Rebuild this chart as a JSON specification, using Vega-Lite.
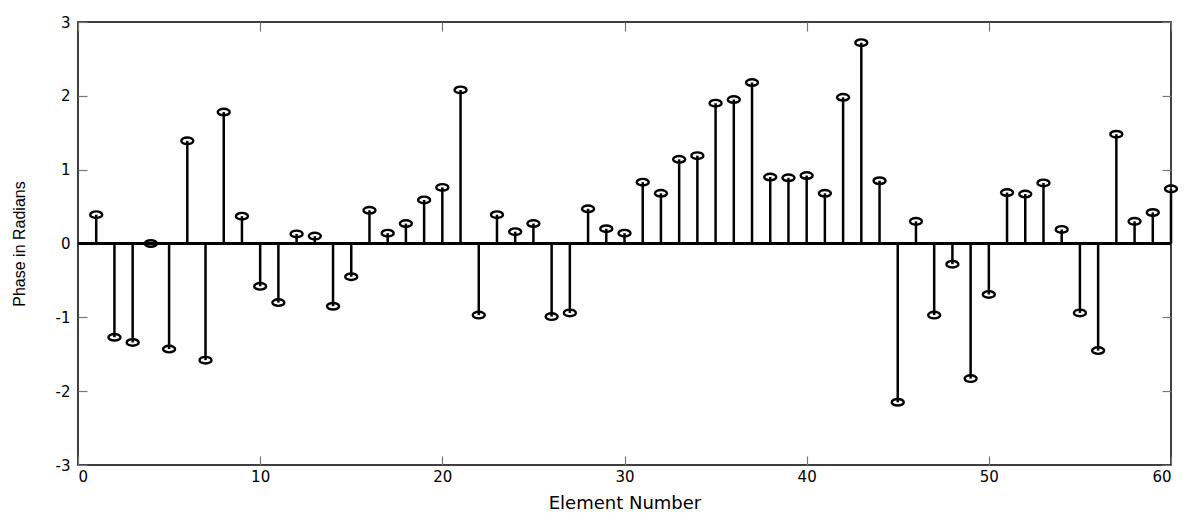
{
  "$schema": "https://vega.github.io/schema/vega-lite/v6.json",
  "width": 1093,
  "height": 443,
  "autosize": "none",
  "padding": {"left": 78, "top": 22, "right": 22, "bottom": 48},
  "background": "white",
  "config": {
    "view": {"stroke": "black", "strokeWidth": 1.5},
    "axis": {
      "labelFont": "DejaVu Sans",
      "labelFontSize": 15,
      "labelColor": "black",
      "titleFont": "DejaVu Sans",
      "titleFontWeight": "normal",
      "titleColor": "black",
      "grid": false,
      "domain": false,
      "tickColor": "#777777",
      "tickWidth": 1.2,
      "tickSize": -9
    }
  },
  "data": {
    "values": [
      {"n": 1, "phase": 0.39}, {"n": 2, "phase": -1.27}, {"n": 3, "phase": -1.34},
      {"n": 4, "phase": 0.0}, {"n": 5, "phase": -1.43}, {"n": 6, "phase": 1.39},
      {"n": 7, "phase": -1.58}, {"n": 8, "phase": 1.78}, {"n": 9, "phase": 0.37},
      {"n": 10, "phase": -0.58}, {"n": 11, "phase": -0.8}, {"n": 12, "phase": 0.13},
      {"n": 13, "phase": 0.1}, {"n": 14, "phase": -0.85}, {"n": 15, "phase": -0.45},
      {"n": 16, "phase": 0.45}, {"n": 17, "phase": 0.14}, {"n": 18, "phase": 0.27},
      {"n": 19, "phase": 0.59}, {"n": 20, "phase": 0.76}, {"n": 21, "phase": 2.08},
      {"n": 22, "phase": -0.97}, {"n": 23, "phase": 0.39}, {"n": 24, "phase": 0.16},
      {"n": 25, "phase": 0.27}, {"n": 26, "phase": -0.99}, {"n": 27, "phase": -0.94},
      {"n": 28, "phase": 0.47}, {"n": 29, "phase": 0.2}, {"n": 30, "phase": 0.14},
      {"n": 31, "phase": 0.83}, {"n": 32, "phase": 0.68}, {"n": 33, "phase": 1.14},
      {"n": 34, "phase": 1.19}, {"n": 35, "phase": 1.9}, {"n": 36, "phase": 1.95},
      {"n": 37, "phase": 2.18}, {"n": 38, "phase": 0.9}, {"n": 39, "phase": 0.89},
      {"n": 40, "phase": 0.92}, {"n": 41, "phase": 0.68}, {"n": 42, "phase": 1.98},
      {"n": 43, "phase": 2.72}, {"n": 44, "phase": 0.85}, {"n": 45, "phase": -2.15},
      {"n": 46, "phase": 0.3}, {"n": 47, "phase": -0.97}, {"n": 48, "phase": -0.28},
      {"n": 49, "phase": -1.83}, {"n": 50, "phase": -0.69}, {"n": 51, "phase": 0.69},
      {"n": 52, "phase": 0.67}, {"n": 53, "phase": 0.82}, {"n": 54, "phase": 0.19},
      {"n": 55, "phase": -0.94}, {"n": 56, "phase": -1.45}, {"n": 57, "phase": 1.48},
      {"n": 58, "phase": 0.3}, {"n": 59, "phase": 0.42}, {"n": 60, "phase": 0.74}
    ]
  },
  "layer": [
    {
      "mark": {"type": "rule", "color": "black", "strokeWidth": 2.5},
      "encoding": {
        "x": {
          "field": "n",
          "type": "quantitative",
          "scale": {"domain": [0, 60], "nice": false, "zero": false},
          "axis": {
            "orient": "bottom",
            "values": [0, 10, 20, 30, 40, 50, 60],
            "labelExpr": "'' + datum.value",
            "labelPadding": 13,
            "title": "Element Number",
            "titleFontSize": 18,
            "titlePadding": 10
          }
        },
        "y": {
          "field": "phase",
          "type": "quantitative",
          "scale": {"domain": [-3, 3], "nice": false, "zero": false},
          "axis": {
            "orient": "left",
            "values": [-3, -2, -1, 0, 1, 2, 3],
            "labelExpr": "'' + datum.value",
            "labelPadding": 17,
            "title": "Phase in Radians",
            "titleFont": "Liberation Sans",
            "titleFontSize": 16,
            "titlePadding": 28
          }
        },
        "y2": {"datum": 0}
      }
    },
    {
      "mark": {"type": "rule", "color": "black", "strokeWidth": 1.5},
      "encoding": {
        "y": {
          "datum": 0,
          "type": "quantitative",
          "axis": {
            "orient": "right",
            "values": [-3, -2, -1, 0, 1, 2, 3],
            "labels": false,
            "title": null
          }
        }
      }
    },
    {
      "mark": {
        "type": "point",
        "shape": "M-1,0 A1,0.55 0 1,0 1,0 A1,0.55 0 1,0 -1,0 Z",
        "size": 144,
        "filled": false,
        "stroke": "black",
        "strokeWidth": 2.4,
        "opacity": 1
      },
      "encoding": {
        "x": {
          "field": "n",
          "type": "quantitative",
          "axis": {
            "orient": "top",
            "values": [0, 10, 20, 30, 40, 50, 60],
            "labels": false,
            "title": null
          }
        },
        "y": {"field": "phase", "type": "quantitative", "axis": null}
      }
    }
  ]
}
